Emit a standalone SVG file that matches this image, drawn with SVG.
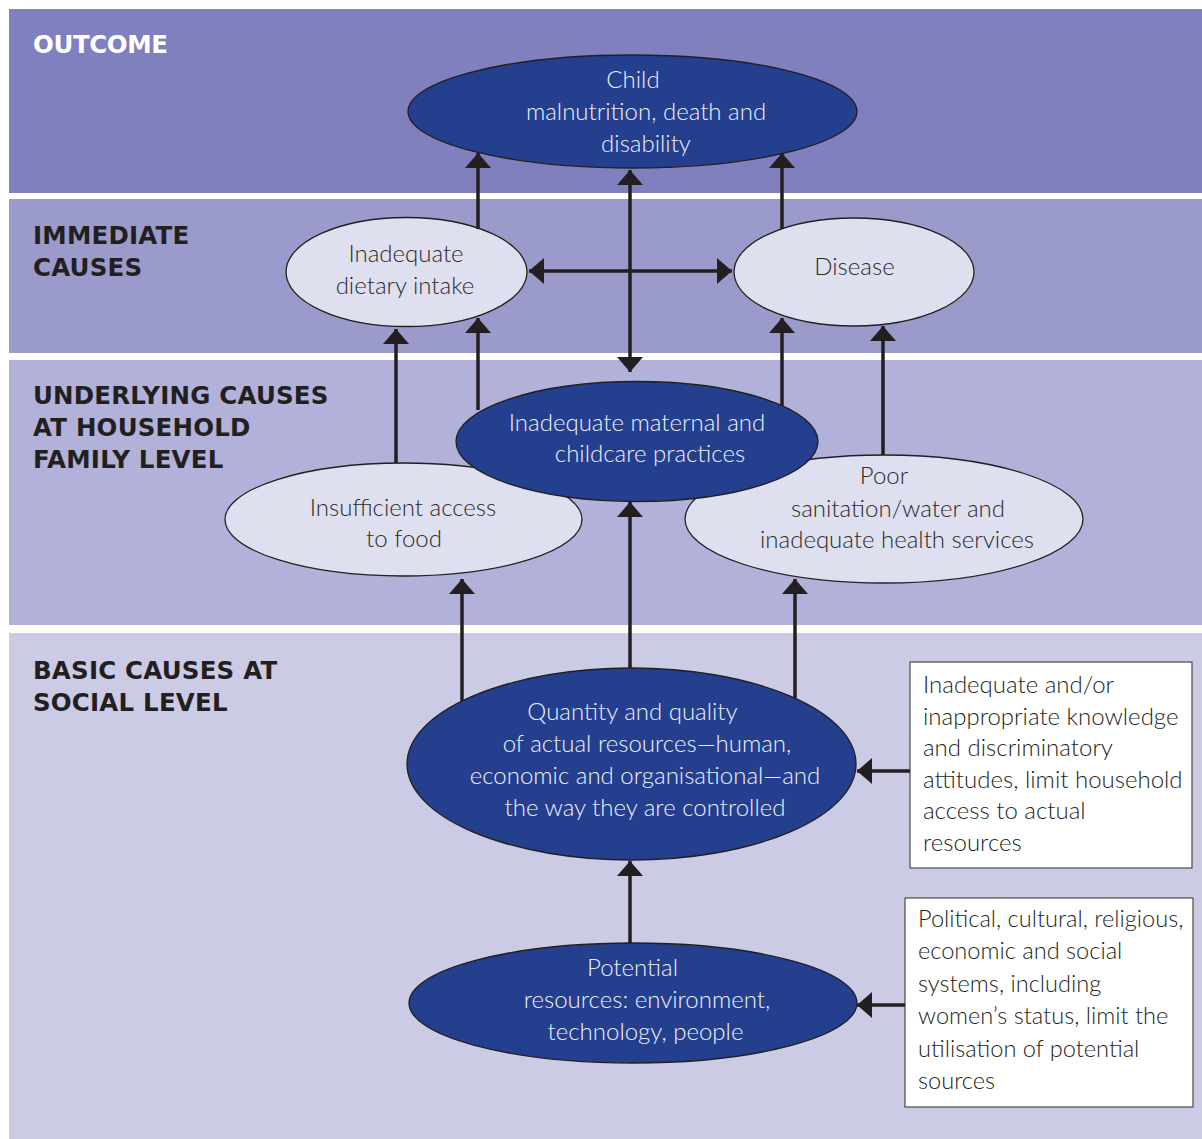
<svg xmlns="http://www.w3.org/2000/svg" width="1202" height="1139" viewBox="0 0 1202 1139">
  <style>
    .band-label { font-family: "DejaVu Sans", Verdana, sans-serif; font-weight: bold; font-size: 24.5px; letter-spacing: 0.2px; fill: #231F20; }
    .band-label.light { fill: #FFFFFF; letter-spacing: -0.4px; }
    .node-dark ellipse { fill: #243F8E; stroke: #231F20; stroke-width: 1.3; }
    .node-light ellipse { fill: #DFE0EF; stroke: #231F20; stroke-width: 1.3; }
    .node-dark text, .node-light text { font-family: Lato, "Open Sans", sans-serif; font-weight: 300; font-size: 24px; text-anchor: middle; }
    .node-dark text { fill: #EEF0F8; }
    .node-light text { fill: #2B2A2B; }
    .box rect { fill: #FFFFFF; stroke: #4A4A4A; stroke-width: 1.2; }
    .box text { font-family: Lato, "Open Sans", sans-serif; font-weight: 300; font-size: 24px; fill: #231F20; }
    #social-systems text { font-size: 23.6px; }
    .conn { stroke: #231F20; stroke-width: 3.5; fill: none; marker-end: url(#head); }
    .conn.both { marker-start: url(#head); }
  </style>
  <defs>
    <marker id="head" markerUnits="userSpaceOnUse" markerWidth="16" markerHeight="26" refX="15" refY="13" orient="auto-start-reverse">
      <path d="M0,0 L15,13 L0,26 z" fill="#231F20"/>
    </marker>
  </defs>

  <!-- background bands -->
  <g id="bands">
    <rect x="9" y="9" width="1193" height="184" fill="#8180BF"/>
    <rect x="9" y="199" width="1193" height="154" fill="#9A9ACB"/>
    <rect x="9" y="360" width="1193" height="265" fill="#B1B1D9"/>
    <rect x="9" y="633" width="1193" height="506" fill="#CBCBE6"/>
  </g>

  <!-- level labels -->
  <g id="labels">
    <text class="band-label light" x="33" y="53">OUTCOME</text>
    <text class="band-label" x="33" y="244">IMMEDIATE</text>
    <text class="band-label" x="33" y="276">CAUSES</text>
    <text class="band-label" x="33" y="404">UNDERLYING CAUSES</text>
    <text class="band-label" x="33" y="436">AT HOUSEHOLD</text>
    <text class="band-label" x="33" y="468">FAMILY LEVEL</text>
    <text class="band-label" x="33" y="679">BASIC CAUSES AT</text>
    <text class="band-label" x="33" y="711">SOCIAL LEVEL</text>
  </g>

  <!-- nodes -->
  <g id="child-outcome" class="node-dark">
    <ellipse cx="632.5" cy="111.5" rx="224.5" ry="56.5"/>
    <text x="633" y="88">Child</text>
    <text x="646" y="120">malnutrition, death and</text>
    <text x="646" y="152">disability</text>
  </g>
  <g id="dietary-intake" class="node-light">
    <ellipse cx="406.5" cy="272" rx="120.5" ry="54.5"/>
    <text x="406" y="262">Inadequate</text>
    <text x="405" y="294">dietary intake</text>
  </g>
  <g id="disease" class="node-light">
    <ellipse cx="854" cy="272" rx="120" ry="54"/>
    <text x="854.5" y="275">Disease</text>
  </g>
  <g id="food-access" class="node-light">
    <ellipse cx="403.5" cy="519.5" rx="178.5" ry="56.5"/>
    <text x="403" y="516">Insufficient access</text>
    <text x="404" y="547">to food</text>
  </g>
  <g id="sanitation-health" class="node-light">
    <ellipse cx="884" cy="519" rx="199" ry="64"/>
    <text x="884" y="484">Poor</text>
    <text x="898" y="517">sanitation/water and</text>
    <text x="897" y="548">inadequate health services</text>
  </g>
  <g id="care-practices" class="node-dark">
    <ellipse cx="637" cy="441.5" rx="181" ry="60"/>
    <text x="637" y="431">Inadequate maternal and</text>
    <text x="650" y="462">childcare practices</text>
  </g>
  <g id="actual-resources" class="node-dark">
    <ellipse cx="631.5" cy="764" rx="224.5" ry="96"/>
    <text x="632.5" y="720">Quantity and quality</text>
    <text x="647" y="752">of actual resources—human,</text>
    <text x="645" y="784">economic and organisational—and</text>
    <text x="645" y="816">the way they are controlled</text>
  </g>
  <g id="potential-resources" class="node-dark">
    <ellipse cx="633" cy="1003" rx="224" ry="60"/>
    <text x="632.5" y="976">Potential</text>
    <text x="647" y="1008">resources: environment,</text>
    <text x="645.5" y="1040">technology, people</text>
  </g>
  <g id="knowledge-attitudes" class="box">
    <rect x="910" y="662" width="282" height="206"/>
    <text x="923" y="693">Inadequate and/or</text>
    <text x="923" y="724.5">inappropriate knowledge</text>
    <text x="923" y="756">and discriminatory</text>
    <text x="923" y="787.5">attitudes, limit household</text>
    <text x="923" y="819">access to actual</text>
    <text x="923" y="850.5">resources</text>
  </g>
  <g id="social-systems" class="box">
    <rect x="905" y="898" width="288" height="209"/>
    <text x="918" y="927">Political, cultural, religious,</text>
    <text x="918" y="959.4">economic and social</text>
    <text x="918" y="991.8">systems, including</text>
    <text x="918" y="1024.2">women’s status, limit the</text>
    <text x="918" y="1056.6">utilisation of potential</text>
    <text x="918" y="1089">sources</text>
  </g>

  <!-- connectors -->
  <g id="connectors">
    <!-- immediate causes to outcome -->
    <line class="conn" x1="478" y1="229" x2="478" y2="153"/>
    <line class="conn" x1="782" y1="229" x2="782" y2="153"/>
    <line class="conn both" x1="630" y1="372" x2="630" y2="170"/>
    <line class="conn both" x1="529" y1="271" x2="732" y2="271"/>
    <!-- underlying causes to immediate causes -->
    <line class="conn" x1="396" y1="463" x2="396" y2="329"/>
    <line class="conn" x1="478" y1="410" x2="478" y2="318"/>
    <line class="conn" x1="782" y1="406" x2="782" y2="318"/>
    <line class="conn" x1="883" y1="455" x2="883" y2="326"/>
    <!-- basic causes to underlying causes -->
    <line class="conn" x1="462" y1="701" x2="462" y2="579"/>
    <line class="conn" x1="630" y1="668" x2="630" y2="502"/>
    <line class="conn" x1="795" y1="698" x2="795" y2="579"/>
    <line class="conn" x1="630" y1="943" x2="630" y2="861"/>
    <!-- side factors -->
    <line class="conn" x1="910" y1="771" x2="857" y2="771"/>
    <line class="conn" x1="905" y1="1005" x2="857" y2="1005"/>
  </g>
</svg>
